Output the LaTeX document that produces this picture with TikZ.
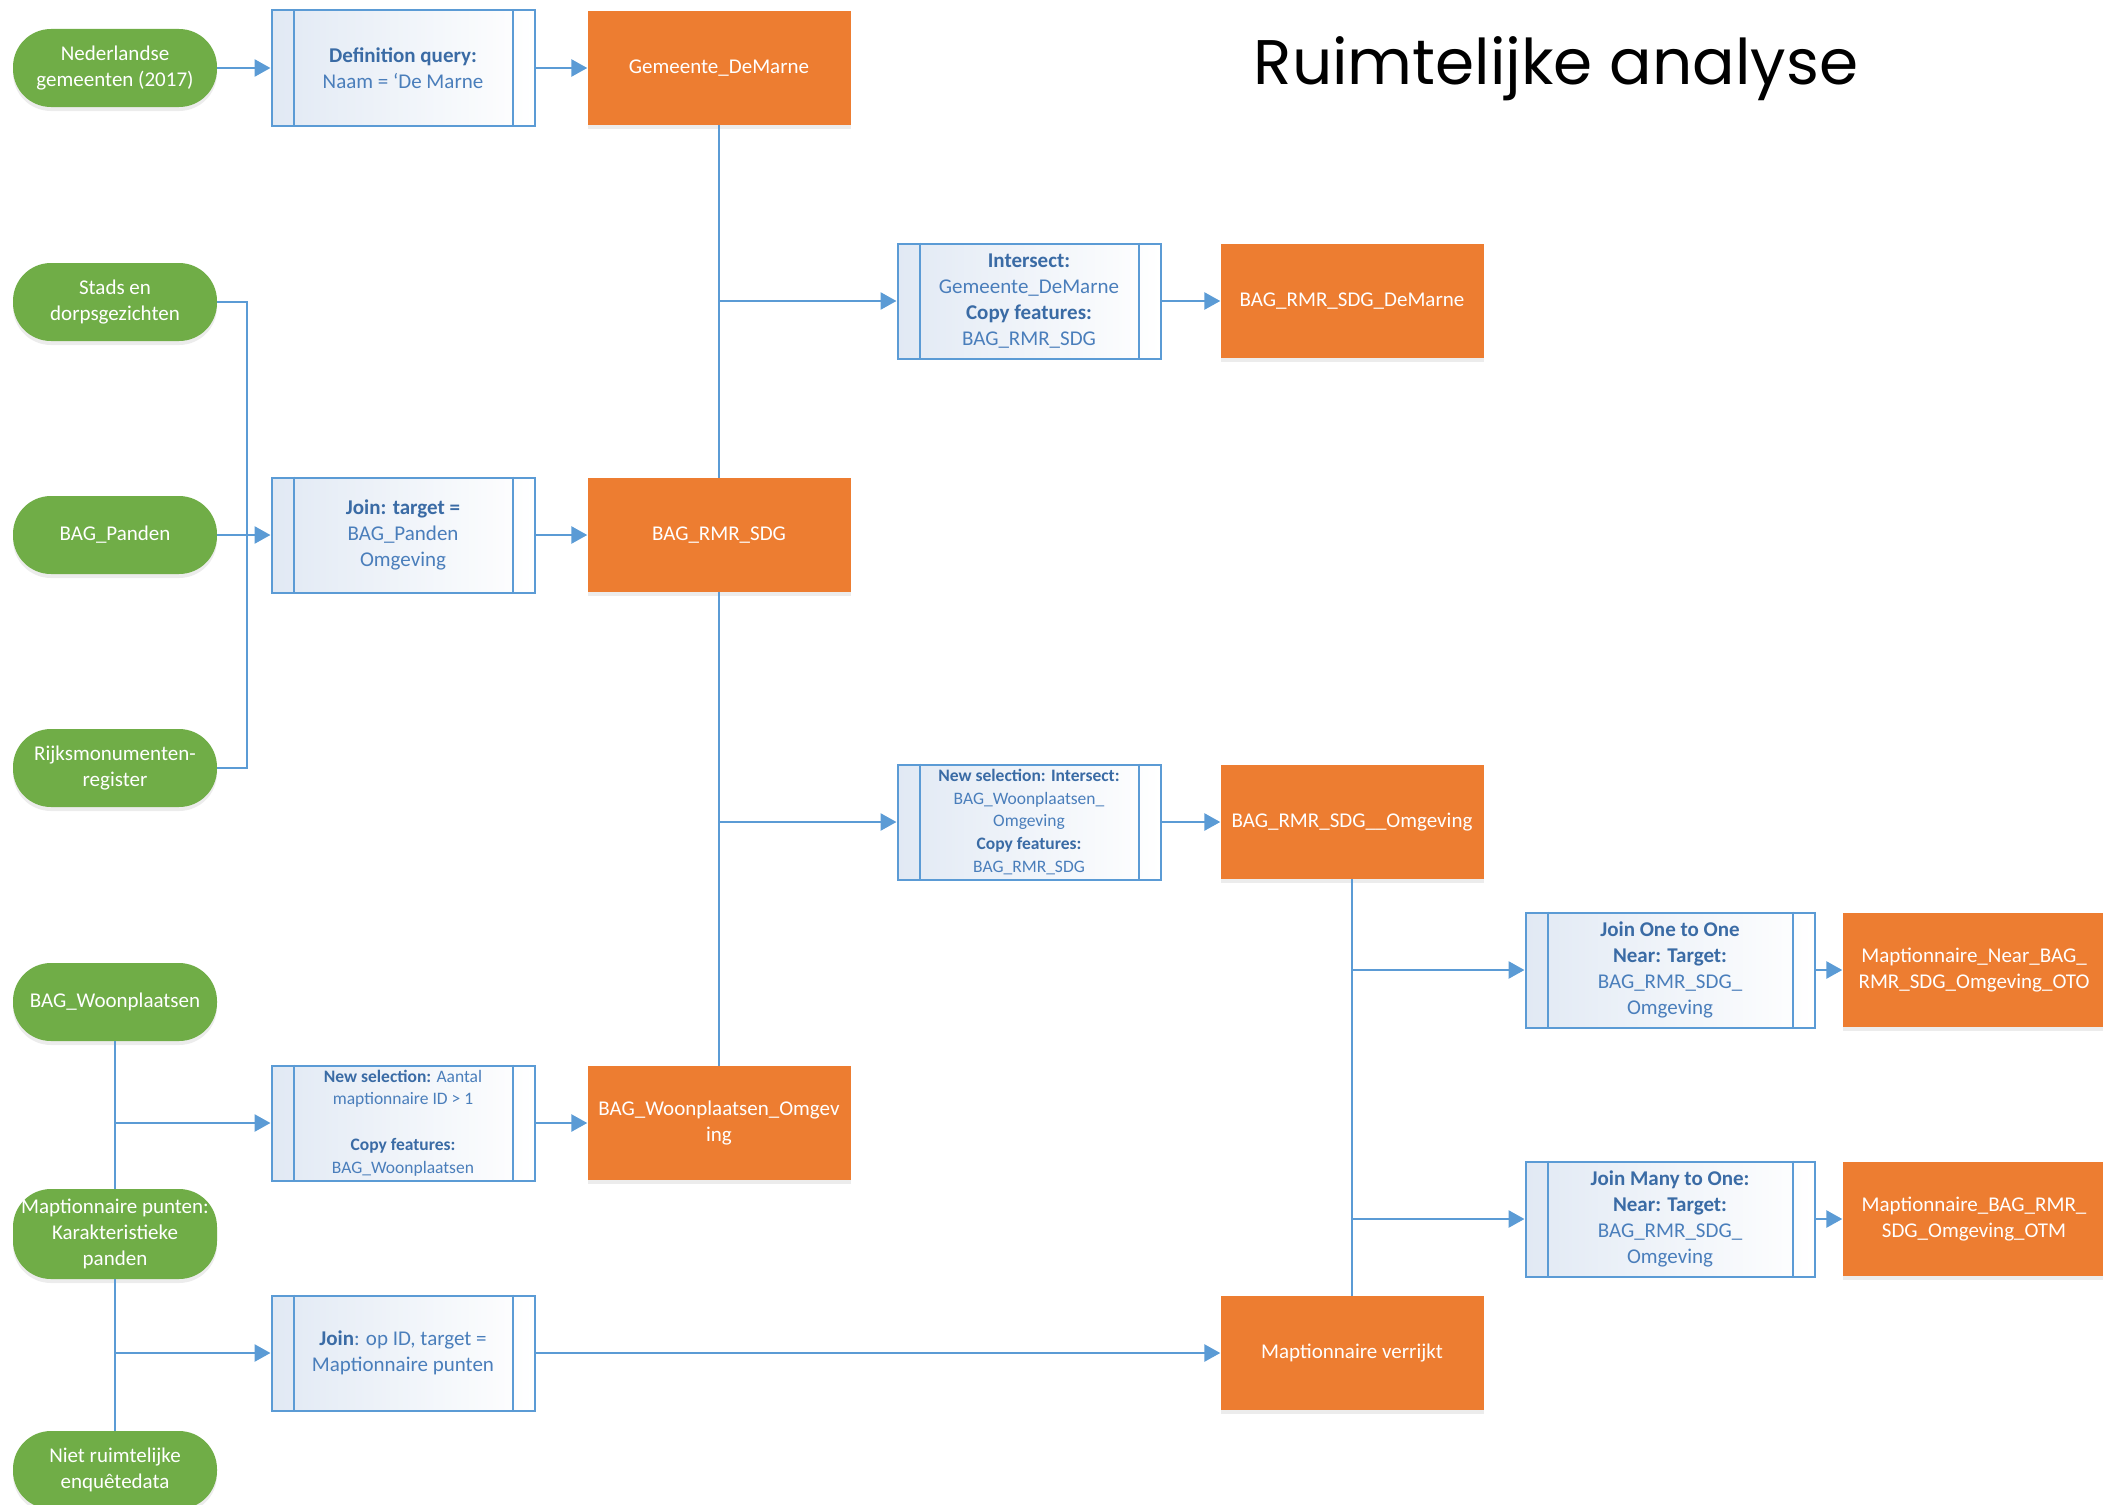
\documentclass[tikz,border=0pt]{standalone}
\usepackage{fontspec}
\setmainfont{Carlito}
\newfontfamily\titlefont{Poppins}
\usetikzlibrary{arrows.meta,shadows}
\definecolor{gr}{HTML}{70AD47}
\definecolor{orr}{HTML}{ED7D31}
\definecolor{bl}{HTML}{5B9BD5}
\definecolor{ptext}{HTML}{4A7EBB}
\definecolor{pbold}{HTML}{3A6BA5}
\definecolor{pfill}{HTML}{E1E9F4}
\newcommand{\pb}[1]{\textbf{\color{pbold}#1}}
\tikzset{
  base/.style={inner sep=0pt, align=center, font=\fontsize{21}{26}\selectfont},
  term/.style={base, fill=gr, text=white, minimum width=204pt, minimum height=78pt, rounded corners=38pt,
     drop shadow={opacity=0.15, shadow xshift=0pt, shadow yshift=-4pt}},
  outbox/.style={base, fill=orr, text=white, minimum width=263pt, minimum height=114pt,
     drop shadow={opacity=0.15, shadow xshift=0pt, shadow yshift=-4pt}},
  proc/.style={base, draw=bl, line width=2pt, left color=pfill, right color=white, text=ptext,
     minimum width=263pt, minimum height=115pt},
  small/.style={font=\fontsize{17.5}{22.8}\selectfont},
  conn/.style={draw=bl, line width=2.7pt},
  arr/.style={conn, -{Triangle[length=16pt,width=17pt]}},
}
\begin{document}
\begin{tikzpicture}[x=1pt,y=-1pt]
\useasboundingbox (0,0) rectangle (2103,1504);
% title
\node[inner sep=0pt, font=\titlefont\fontsize{63}{68}\selectfont] (title) at (1556,69) {Ruimtelijke analyse};
% green terminals
\node[term] (ned) at (115,68) {Nederlandse\\gemeenten (2017)};
\node[term] (stads) at (115,302) {Stads en\\dorpsgezichten};
\node[term] (panden) at (115,535) {BAG\_Panden};
\node[term] (rijks) at (115,768) {Rijksmonumenten-\\register};
\node[term] (woon) at (115,1002) {BAG\_Woonplaatsen};
\node[term, minimum height=90pt] (mapt) at (115,1234) {Maptionnaire punten:\\Karakteristieke\\panden};
\node[term] (niet) at (115,1470) {Niet ruimtelijke\\enquêtedata};
% process boxes
\node[proc] (dq) at (403,68) {\pb{Definition query:}\\Naam = ‘De Marne};
\node[proc] (jt) at (403,535) {\pb{Join: target =}\\BAG\_Panden\\Omgeving};
\node[proc, small] (nsa) at (403,1123) {\pb{New selection:} Aantal\\maptionnaire ID > 1\\[22.8pt]\pb{Copy features:}\\BAG\_Woonplaatsen};
\node[proc] (jid) at (403,1353) {\pb{Join}: op ID, target =\\Maptionnaire punten};
\node[proc] (isect) at (1029,301) {\pb{Intersect:}\\Gemeente\_DeMarne\\\pb{Copy features:}\\BAG\_RMR\_SDG};
\node[proc, small] (nsi) at (1029,822) {\pb{New selection: Intersect:}\\BAG\_Woonplaatsen\_\\Omgeving\\\pb{Copy features:}\\BAG\_RMR\_SDG};
\node[proc, minimum width=289pt] (oto) at (1670,970) {\pb{Join One to One}\\\pb{Near: Target:}\\BAG\_RMR\_SDG\_\\Omgeving};
\node[proc, minimum width=289pt] (otm) at (1670,1219) {\pb{Join Many to One:}\\\pb{Near: Target:}\\BAG\_RMR\_SDG\_\\Omgeving};
\foreach \n in {dq,jt,nsa,jid,isect,nsi,oto,otm}{
  \draw[bl, line width=2pt] ([xshift=23pt]\n.north west) -- ([xshift=23pt]\n.south west);
  \draw[bl, line width=2pt] ([xshift=-23pt]\n.north east) -- ([xshift=-23pt]\n.south east);
}
% orange outputs
\node[outbox] (gem) at (719,68) {Gemeente\_DeMarne};
\node[outbox] (rmr) at (719,535) {BAG\_RMR\_SDG};
\node[outbox] (bwo) at (719,1123) {BAG\_Woonplaatsen\_Omgev\\ing};
\node[outbox] (demarne) at (1352,301) {BAG\_RMR\_SDG\_DeMarne};
\node[outbox] (omg) at (1352,822) {BAG\_RMR\_SDG\_\_Omgeving};
\node[outbox] (verr) at (1352,1353) {Maptionnaire verrijkt};
\node[outbox] (near) at (1974,970) {Maptionnaire\_Near\_BAG\_\\RMR\_SDG\_Omgeving\_OTO};
\node[outbox] (mbag) at (1974,1219) {Maptionnaire\_BAG\_RMR\_\\SDG\_Omgeving\_OTM};
% junction coordinates
\coordinate (bus) at (247,0);
\coordinate (j1) at (gem.south |- isect.west);
\coordinate (j2) at (rmr.south |- nsi.west);
\coordinate (j3) at (omg.south |- oto.west);
\coordinate (j4) at (omg.south |- otm.west);
\coordinate (j5) at (woon.south |- nsa.west);
\coordinate (j6) at (woon.south |- jid.west);
% connectors
\draw[arr] (ned) -- (dq);
\draw[arr] (dq) -- (gem);
\draw[conn] (gem) -- (rmr);
\draw[arr] (j1) -- (isect);
\draw[arr] (isect) -- (demarne);
\draw[conn] (stads.east) -- (bus |- stads.east) -- (bus |- rijks.east) -- (rijks.east);
\draw[arr] (panden) -- (jt);
\draw[arr] (jt) -- (rmr);
\draw[conn] (rmr) -- (bwo);
\draw[arr] (j2) -- (nsi);
\draw[arr] (nsi) -- (omg);
\draw[conn] (omg) -- (verr);
\draw[arr] (j3) -- (oto);
\draw[arr] (j4) -- (otm);
\draw[arr] (oto) -- (near);
\draw[arr] (otm) -- (mbag);
\draw[conn] (woon) -- (mapt);
\draw[conn] (mapt) -- (niet);
\draw[arr] (j5) -- (nsa);
\draw[arr] (j6) -- (jid);
\draw[arr] (nsa) -- (bwo);
\draw[arr] (jid) -- (verr);
\end{tikzpicture}
\end{document}
